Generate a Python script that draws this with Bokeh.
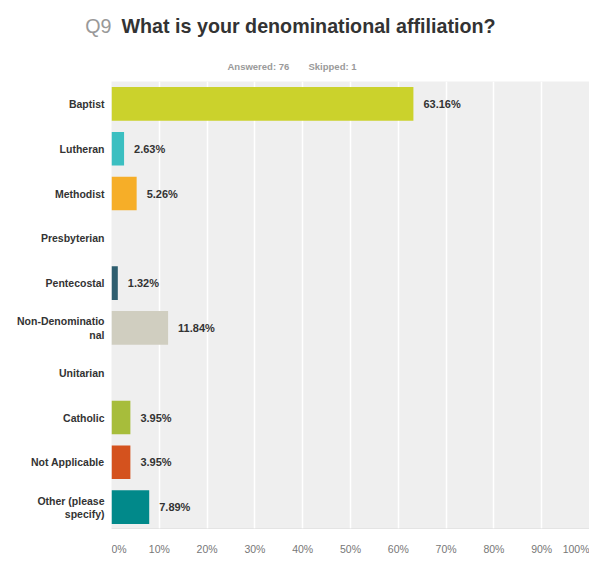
from bokeh.plotting import figure
from bokeh.layouts import column
from bokeh.models import ColumnDataSource, FixedTicker, Span
from bokeh.core.properties import value
from bokeh.embed import file_html
from bokeh.resources import INLINE

categories = ["Baptist", "Lutheran", "Methodist", "Presbyterian", "Pentecostal",
              "Non-Denominatio\nnal", "Unitarian", "Catholic", "Not Applicable",
              "Other (please\nspecify)"]
percents = [63.16, 2.63, 5.26, 0.0, 1.32, 11.84, 0.0, 3.95, 3.95, 7.89]
bar_colors = ["#cbd22c", "#3bbfc1", "#f6ae28", "#8a8a8a", "#2e5e6f",
              "#d0cec0", "#8a8a8a", "#a7bd3b", "#d4521e", "#01898a"]
tick_values = [0, 10, 20, 30, 40, 50, 60, 70, 80, 90, 100]
tick_labels = [f"{t}%" for t in tick_values]
question = "Q9"
title_text = "What is your denominational affiliation?"
answered, skipped = 76, 1

FONT = "Liberation Sans"
W = 589
LEFT = 111


def bare(fig):
    fig.xaxis.visible = False
    fig.yaxis.visible = False
    fig.grid.grid_line_color = None
    fig.outline_line_color = None
    fig.background_fill_color = "white"
    fig.border_fill_color = "white"
    return fig


# ---- heading; inside its frame x and y are pixels from the page's top-left
HEAD_H = 75
TITLE_Y = 25
head = bare(figure(frame_width=W - LEFT, frame_height=HEAD_H,
                   x_range=(LEFT, W), y_range=(HEAD_H, 0),
                   output_backend="svg", toolbar_location=None,
                   min_border_left=LEFT, min_border_right=0,
                   min_border_top=0, min_border_bottom=0))
# the grey question number sits in the left margin as the single y tick label
head.yaxis.visible = True
head.yaxis.ticker = FixedTicker(ticks=[TITLE_Y])
head.yaxis.major_label_overrides = {TITLE_Y: question}
head.yaxis.axis_line_color = None
head.yaxis.major_tick_line_color = None
head.yaxis.minor_tick_line_color = None
head.yaxis.major_tick_out = 0
head.yaxis.major_tick_in = 0
head.yaxis.major_label_standoff = 0
head.yaxis.major_label_text_font = FONT
head.yaxis.major_label_text_font_size = "19.7px"
head.yaxis.major_label_text_color = "#999999"

head.text(x=[121], y=[TITLE_Y], text=[title_text], text_font=value(FONT),
          text_font_size="19.7px", text_font_style="bold", text_color="#333333",
          text_baseline="middle")
head.text(x=[227, 308], y=[66, 66],
          text=[f"Answered: {answered}", f"Skipped: {skipped}"],
          text_font=value(FONT), text_font_size="9.5px", text_font_style="bold",
          text_color="#9a9a9a", text_baseline="alphabetic")

# ---- main bar chart
p = figure(frame_width=W - LEFT, frame_height=448,
           y_range=list(reversed(categories)), x_range=(0, 100),
           output_backend="svg", toolbar_location=None,
           min_border_left=LEFT, min_border_right=0, min_border_top=6,
           min_border_bottom=0)
p.background_fill_color = "#efefef"
p.border_fill_color = "white"
p.outline_line_color = None

src = ColumnDataSource(dict(cat=categories, pct=percents, color=bar_colors))
p.hbar(y="cat", right="pct", left=0, height=0.75, fill_color="color",
       line_color=None, source=src)

shown = [i for i, v in enumerate(percents) if v > 0]
lab_src = ColumnDataSource(dict(cat=[categories[i] for i in shown],
                                pct=[percents[i] for i in shown],
                                txt=[f"{percents[i]:.2f}%" for i in shown]))
p.text(x="pct", y="cat", text="txt", source=lab_src, x_offset=10,
       text_font=value(FONT), text_font_style="bold", text_font_size="11px",
       text_color="#333333", text_baseline="middle", text_align="left")

# white vertical grid lines, no horizontal grid
p.ygrid.grid_line_color = None
p.xgrid.ticker = FixedTicker(ticks=tick_values[1:])
p.xgrid.grid_line_color = "white"
p.xgrid.grid_line_width = 1.5
p.xaxis.visible = False

# light base line along the bottom of the plot area
p.add_layout(Span(location=0, dimension="width", line_color="#d9d9d9",
                  line_width=2))

p.yaxis.axis_line_color = None
p.yaxis.major_tick_line_color = None
p.yaxis.minor_tick_line_color = None
p.yaxis.major_label_standoff = 1
p.yaxis.major_label_text_font = FONT
p.yaxis.major_label_text_font_style = "bold"
p.yaxis.major_label_text_font_size = "10.5px"
p.yaxis.major_label_text_color = "#333333"
p.yaxis.major_label_text_line_height = 1.1

# ---- percentage scale under the chart, sharing its x range
ticks = bare(figure(frame_width=W - LEFT, frame_height=32, x_range=p.x_range,
                    y_range=(32, 0), output_backend="svg", toolbar_location=None,
                    min_border_left=LEFT, min_border_right=0, min_border_top=0,
                    min_border_bottom=0))
aligns = ["left" if t == tick_values[0] else "right" if t == tick_values[-1] else "center"
          for t in tick_values]
tick_src = ColumnDataSource(dict(x=tick_values, y=[19] * len(tick_values),
                                 txt=tick_labels, align=aligns))
ticks.text(x="x", y="y", text="txt", source=tick_src, text_align="align",
           text_baseline="middle", text_font=value(FONT),
           text_font_size="10.5px", text_color="#777777")

layout = column(head, p, ticks, spacing=0)
open("out.html", "w").write(file_html(layout, INLINE))
